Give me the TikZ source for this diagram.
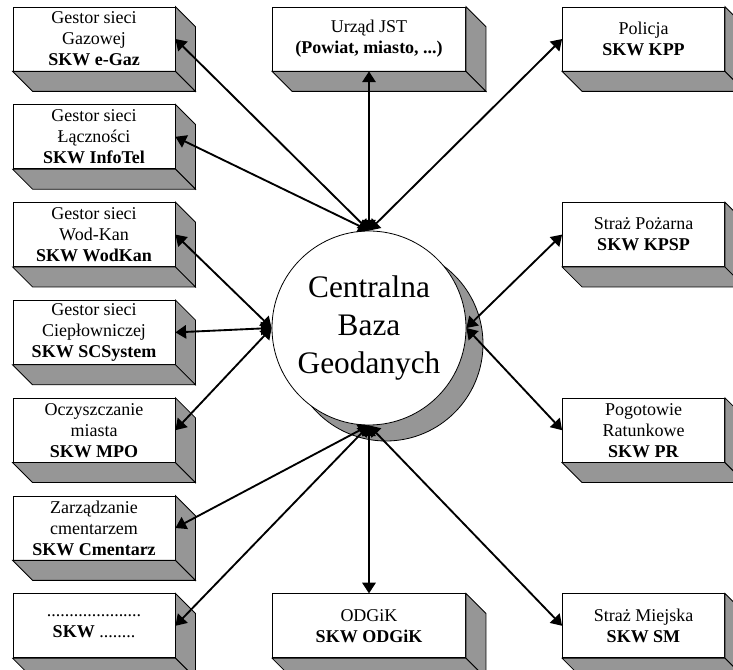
\documentclass[tikz,border=0pt]{standalone}
\usepackage{fontspec}
\setmainfont{Liberation Serif}
\usepackage{xcolor}
\usetikzlibrary{arrows.meta, positioning}
\definecolor{boxgray}{RGB}{150,150,150}

\begin{document}
\begin{tikzpicture}[
            x=0.75pt, y=-0.75pt,               % wspolrzedne w pikselach
            node distance=24.75pt,
            block/.style={
                rectangle,
                draw=black,
                line width=0.6pt,
                fill=white,
                minimum width=121.5pt,
                minimum height=48pt,
                inner sep=0pt,
                align=center,
                font=\fontsize{13.5}{15.75}\selectfont
            },
            wideblock/.style={
                block,
                minimum width=144.75pt
            },
            side/.style={
                draw=black,
                line width=0.6pt,
                fill=boxgray
            },
            ball/.style={
                circle,
                draw=black,
                line width=0.6pt,
                fill=white,
                minimum size=145.5pt,
                inner sep=0pt,
                align=center,
                font=\fontsize{23.5}{28.5}\selectfont
            },
            line/.style={
                draw,
                {Triangle[length=8pt,width=10pt]}-{Triangle[length=8pt,width=10pt]},
                line width=1.4pt
            }
        ]
            \useasboundingbox (0,0) rectangle (733,670);

            % --- BAZA CENTRALNA ---
            \node [ball, fill=boxgray] (cien) at (386,344) {};
            \node [ball] (cbg) at (369,328) {Centralna\\Baza\\Geodanych};

            % --- WEZLY SKW (lewa kolumna) ---
            \node [block] (gaz) at (94,39) {Gestor sieci\\Gazowej\\\textbf{SKW e-Gaz}};
            \node [block, below=of gaz] (tel) {Gestor sieci\\Łączności\\\textbf{SKW InfoTel}};
            \node [block, below=of tel] (wodkan) {Gestor sieci\\Wod-Kan\\\textbf{SKW WodKan}};
            \node [block, below=of wodkan] (cieplo) {Gestor sieci\\Ciepłowniczej\\\textbf{SKW SCSystem}};
            \node [block, below=of cieplo] (mpo) {Oczyszczanie\\miasta\\\textbf{SKW MPO}};
            \node [block, below=of mpo] (cmentarz) {Zarządzanie\\cmentarzem\\\textbf{SKW Cmentarz}};
            \node [block, below=of cmentarz] (inne) {.....................\\\textbf{SKW} ........};

            % --- WEZLY SKW (srodek i prawa kolumna) ---
            \node [wideblock] (jst) at (cbg |- gaz) {Urząd JST\\\textbf{(Powiat, miasto, ...)}};
            \node [wideblock] (odgik) at (cbg |- inne) {ODGiK\\\textbf{SKW ODGiK}};
            \node [block] (kpp) at (643.5,39) {Policja\\\textbf{SKW KPP}};
            \node [block] (kpsp) at (kpp |- wodkan) {Straż Pożarna\\\textbf{SKW KPSP}};
            \node [block] (pr) at (kpp |- mpo) {Pogotowie\\Ratunkowe\\\textbf{SKW PR}};
            \node [block] (sm) at (kpp |- inne) {Straż Miejska\\\textbf{SKW SM}};

            % --- SCIANKI 3D ---
            \foreach \n in {gaz,tel,wodkan,cieplo,mpo,cmentarz,inne,jst,odgik,kpp,kpsp,pr,sm} {
                \path [side] (\n.north east) -- ++(20,20) -- ([shift={(20,20)}]\n.south east) -- (\n.south east) -- cycle;
                \path [side] (\n.south west) -- ++(20,20) -- ([shift={(20,20)}]\n.south east) -- (\n.south east) -- cycle;
            }

            % --- POLACZENIA ---
            \path [line] (gaz.east) -- (cbg.north);
            \path [line] (tel.east) -- (cbg.north);
            \path [line] (jst.south) -- (cbg.north);
            \path [line] (kpp.west) -- (cbg.north);
            \path [line] (wodkan.east) -- (cbg.west);
            \path [line] (cieplo.east) -- (cbg.west);
            \path [line] (mpo.east) -- (cbg.west);
            \path [line] (kpsp.west) -- (cbg.east);
            \path [line] (pr.west) -- (cbg.east);
            \path [line] (cmentarz.east) -- (cbg.south);
            \path [line] (inne.east) -- (cbg.south);
            \path [line] (odgik.north) -- (cbg.south);
            \path [line] (sm.west) -- (cbg.south);
        \end{tikzpicture}
\end{document}
